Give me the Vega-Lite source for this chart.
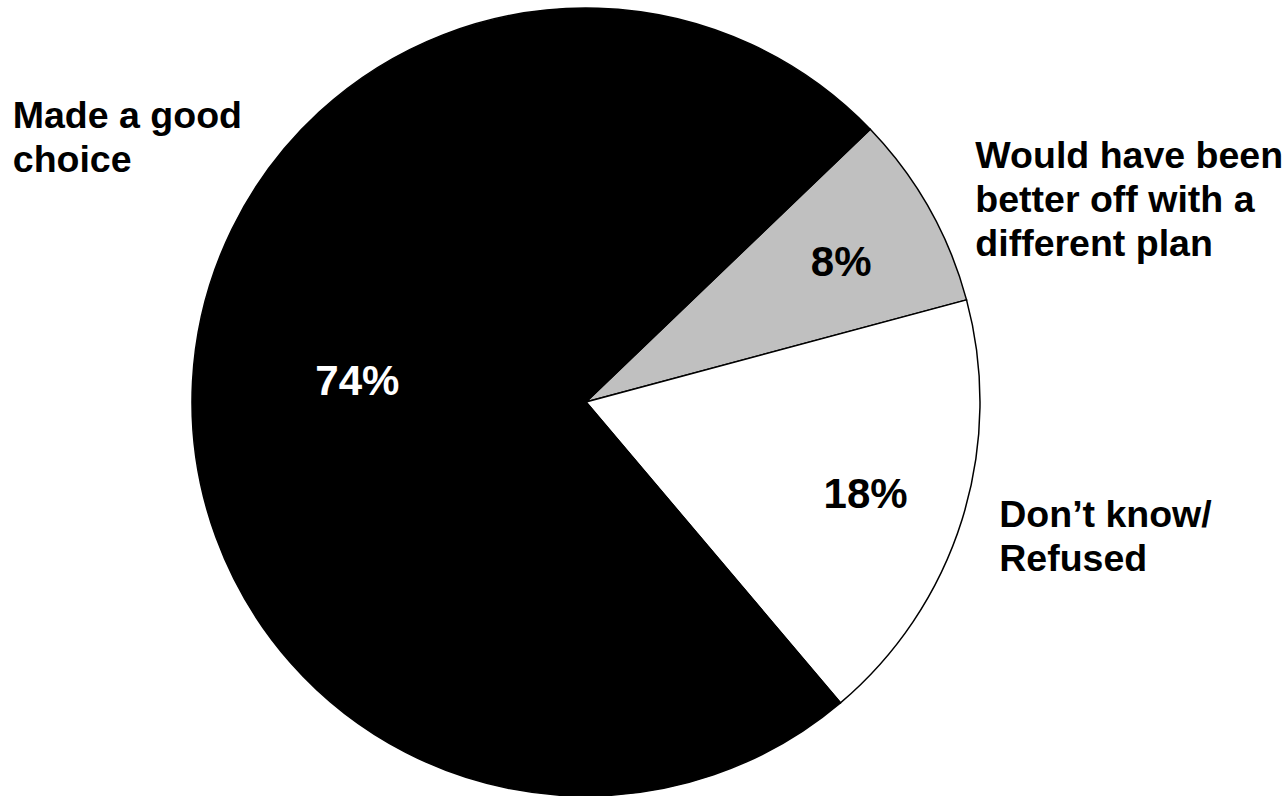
{
  "$schema": "https://vega.github.io/schema/vega-lite/v6.json",
  "width": 1172,
  "height": 788,
  "autosize": {"type": "none"},
  "padding": {"left": 0, "top": 8, "right": 115, "bottom": 0},
  "background": "white",
  "config": {"view": {"stroke": null}},
  "data": {
    "values": [
      {"category": "Would have been better off with a different plan", "label": "Would have been|better off with a|different plan", "pct": 8, "order": 1},
      {"category": "Don’t know/ Refused", "label": "Don’t know/|Refused", "pct": 18, "order": 2},
      {"category": "Made a good choice", "label": "Made a good|choice", "pct": 74, "order": 3}
    ]
  },
  "transform": [{"calculate": "datum.pct + '%'", "as": "pct_label"}],
  "encoding": {
    "theta": {"field": "pct", "type": "quantitative", "stack": true, "scale": {"range": [0.806, 7.089]}},
    "order": {"field": "order", "type": "quantitative"}
  },
  "layer": [
    {
      "mark": {"type": "arc", "stroke": "#000000", "strokeWidth": 1.5},
      "encoding": {
        "color": {
          "field": "category",
          "type": "nominal",
          "scale": {
            "domain": ["Would have been better off with a different plan", "Don’t know/ Refused", "Made a good choice"],
            "range": ["#c0c0c0", "#ffffff", "#000000"]
          },
          "legend": null
        }
      }
    },
    {
      "mark": {"type": "text", "radius": 293, "dy": 5, "font": "Liberation Sans", "fontWeight": "bold", "fontSize": 42, "color": "#000000", "align": "center", "baseline": "middle"},
      "encoding": {
        "text": {"condition": {"test": "datum.order != 3", "field": "pct_label", "type": "nominal"}, "value": ""}
      }
    },
    {
      "mark": {"type": "text", "radius": 229, "dy": -8, "font": "Liberation Sans", "fontWeight": "bold", "fontSize": 42, "color": "#ffffff", "align": "center", "baseline": "middle"},
      "encoding": {
        "text": {"condition": {"test": "datum.order == 3", "field": "pct_label", "type": "nominal"}, "value": ""}
      }
    },
    {
      "mark": {"type": "text", "radius": 574, "dy": -255, "lineBreak": "|", "lineHeight": 44, "font": "Liberation Sans", "fontWeight": "bold", "fontSize": 37.5, "color": "#000000", "align": "left", "baseline": "middle"},
      "encoding": {
        "text": {"condition": {"test": "datum.order == 3", "field": "label", "type": "nominal"}, "value": ""}
      }
    },
    {
      "mark": {"type": "text", "radius": 447, "dy": -25, "lineBreak": "|", "lineHeight": 44, "font": "Liberation Sans", "fontWeight": "bold", "fontSize": 37.5, "color": "#000000", "align": "left", "baseline": "middle"},
      "encoding": {
        "text": {"condition": {"test": "datum.order == 1", "field": "label", "type": "nominal"}, "value": ""}
      }
    },
    {
      "mark": {"type": "text", "radius": 433, "dy": -15, "lineBreak": "|", "lineHeight": 44, "font": "Liberation Sans", "fontWeight": "bold", "fontSize": 37.5, "color": "#000000", "align": "left", "baseline": "middle"},
      "encoding": {
        "text": {"condition": {"test": "datum.order == 2", "field": "label", "type": "nominal"}, "value": ""}
      }
    }
  ]
}
